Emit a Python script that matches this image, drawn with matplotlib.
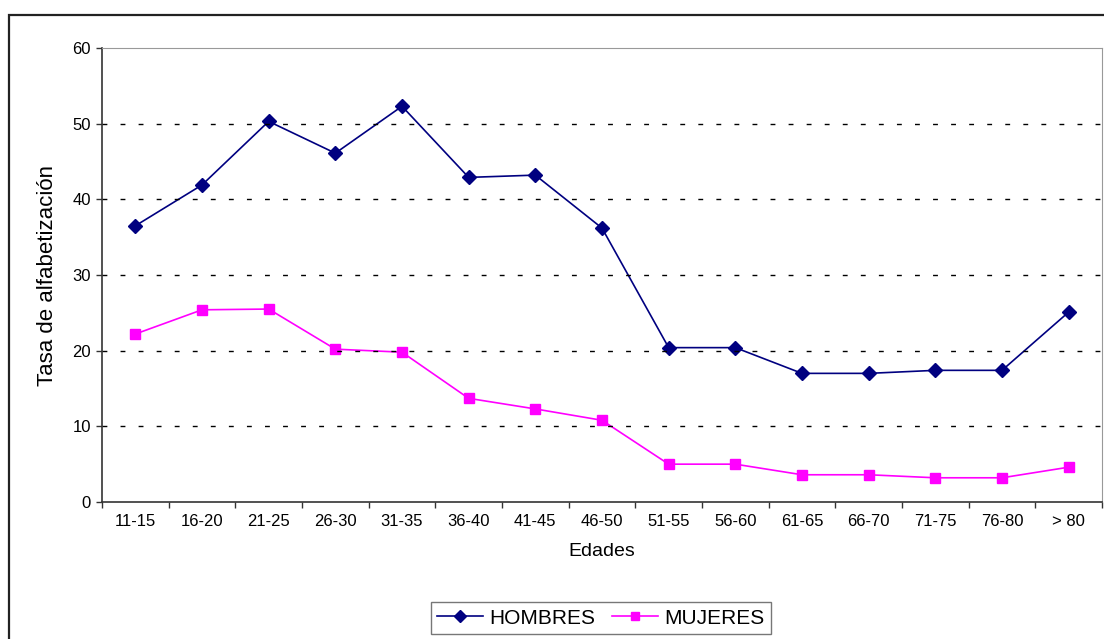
import numpy as np
import matplotlib.pyplot as plt
from matplotlib.patches import Rectangle

plt.rcParams['font.family'] = ['Liberation Sans', 'DejaVu Sans']
plt.rcParams['lines.scale_dashes'] = False

edades = ["11-15", "16-20", "21-25", "26-30", "31-35", "36-40", "41-45", "46-50",
          "51-55", "56-60", "61-65", "66-70", "71-75", "76-80", "> 80"]
hombres = [36.5, 41.9, 50.3, 46.1, 52.3, 42.9, 43.2, 36.2,
           20.4, 20.4, 17.0, 17.0, 17.4, 17.4, 25.1]
mujeres = [22.2, 25.4, 25.5, 20.2, 19.8, 13.7, 12.3, 10.8,
           5.0, 5.0, 3.6, 3.6, 3.2, 3.2, 4.6]

fig = plt.figure(figsize=(11.04, 6.39), dpi=100)
ax = fig.add_axes([102/1104, 1-502/639, 1000/1104, 454/639])

# marco exterior del grafico
fig.patches.append(Rectangle((9/1104, -0.05), 1.2, 1-15/639+0.05, transform=fig.transFigure,
                             fill=False, edgecolor="#222222", linewidth=1.6))

x = np.arange(len(edades))
ax.plot(x, hombres, color="#000080", marker="D", markersize=7.2, linewidth=1.2, label="HOMBRES")
ax.plot(x, mujeres, color="#FF00FF", marker="s", markersize=7, linewidth=1.2, label="MUJERES")

ax.set_xlim(-0.5, len(edades)-0.5)
ax.set_ylim(0, 60)
ax.set_yticks(np.arange(0, 61, 10))
ax.set_xticks(x)
ax.set_xticklabels(edades)
ax.set_xticks(np.arange(-0.5, len(edades), 1), minor=True)
ax.tick_params(axis="x", which="major", length=0, pad=9, labelsize=12)
ax.tick_params(axis="x", which="minor", length=4, width=1, color="#333333", direction="out")
ax.tick_params(axis="y", length=4, width=1, color="#333333", pad=4, labelsize=12)

for yv in range(10, 60, 10):
    ax.axhline(yv, color="black", linewidth=1.0, dashes=(3.5, 9.5))

for s in ["top", "right"]:
    ax.spines[s].set_color("#999999")
for s in ["left", "bottom"]:
    ax.spines[s].set_color("#333333")
    ax.spines[s].set_linewidth(1.2)

ax.set_xlabel("Edades", fontsize=14, labelpad=10)
ax.set_ylabel("Tasa de alfabetización", fontsize=16, labelpad=10)

leg = fig.legend(loc="center", bbox_to_anchor=(601/1104, 1-618/639), ncol=2, fontsize=15,
                 frameon=True, fancybox=False, edgecolor="#555555", handlelength=2.2,
                 handletextpad=0.3, columnspacing=0.8, borderpad=0.3, markerscale=0.8)
leg.get_frame().set_linewidth(1.0)

plt.savefig("out.png", dpi=100)
